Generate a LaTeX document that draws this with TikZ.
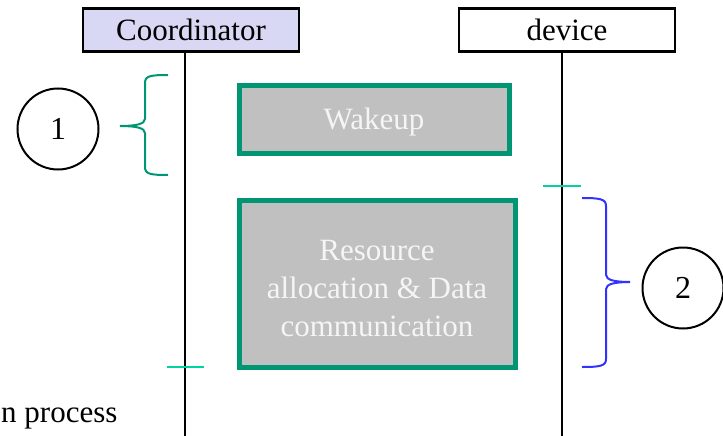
\documentclass[tikz,border=0pt]{standalone}
\usepackage{fontspec}
\setmainfont{Liberation Serif}
\definecolor{lav}{RGB}{216,216,244}
\definecolor{boxgreen}{RGB}{0,150,115}
\definecolor{tickgreen}{RGB}{0,210,160}
\definecolor{braceblue}{RGB}{51,51,255}
\definecolor{boxgray}{RGB}{192,192,192}
\definecolor{boxtext}{RGB}{245,245,245}
\begin{document}
\begin{tikzpicture}[x=1pt,y=-1pt,
  actor/.style={draw=black,line width=2.2pt,minimum width=216pt,minimum height=43pt,inner sep=0pt,font=\fontsize{31}{34}\selectfont},
  phase/.style={draw=boxgreen,line width=5pt,fill=boxgray,inner sep=0pt},
  phasetext/.style={text=boxtext,inner sep=0pt,align=center,font=\fontsize{31}{38}\selectfont},
  life/.style={line width=2pt},
  tickmark/.style={draw=tickgreen,line width=2.5pt},
  num/.style={draw=black,circle,line width=2pt,minimum size=81pt,inner sep=0pt,font=\fontsize{32}{34}\selectfont}]
\useasboundingbox (0,0) rectangle (723,436);
% actors
\node[actor,fill=lav] (coord) at (191,30) {Coordinator};
\node[actor,fill=white] (dev) at (567,30) {device};
\coordinate (coordend) at (185,437);
\coordinate (devend) at (562,437);
\draw[life] (coord.south -| coordend) -- (coordend);
\draw[life] (dev.south -| devend) -- (devend);
% phases
\node[phase,minimum width=270pt,minimum height=67pt] (wake) at (374,119.5) {};
\node[phasetext,yshift=-3pt] (waketext) at (wake.center) {Wakeup};
\node[phase,minimum width=276pt,minimum height=167pt] (res) at (377,284) {};
\node[phasetext,yshift=-4pt] (restext) at (res.center) {Resource\\allocation \& Data\\communication};
% ticks
\coordinate (t1a) at (543,186); \coordinate (t1b) at (581,186);
\draw[tickmark] (t1a) -- (t1b);
\coordinate (t2a) at (167,367); \coordinate (t2b) at (204,367);
\draw[tickmark] (t2a) -- (t2b);
% circles
\node[num] (c1) at (58,129) {1};
\node[num] (c2) at (683,288) {2};
% brace 1
\coordinate (b1top) at (168,75);
\coordinate (b1tip) at (120,126);
\coordinate (b1bot) at (168,175);
\draw[boxgreen,line width=2pt] (b1top) .. controls (150,75) and (145,76) .. (145,83) -- (145,119)
  .. controls (145,124) and (136,126) .. (b1tip)
  .. controls (136,126) and (145,128) .. (145,133) -- (145,167)
  .. controls (145,174) and (150,175) .. (b1bot);
% brace 2
\coordinate (b2top) at (582,198);
\coordinate (b2tip) at (630,282);
\coordinate (b2bot) at (582,367);
\draw[braceblue,line width=2pt] (b2top) .. controls (600,198) and (606,199) .. (606,206) -- (606,275)
  .. controls (606,280) and (615,282) .. (b2tip)
  .. controls (615,282) and (606,284) .. (606,289) -- (606,359)
  .. controls (606,366) and (600,367) .. (b2bot);
% clipped caption
\node[anchor=base west,inner sep=0pt,font=\fontsize{31}{34}\selectfont] (cap) at (1,422) {n process};
\end{tikzpicture}
\end{document}
